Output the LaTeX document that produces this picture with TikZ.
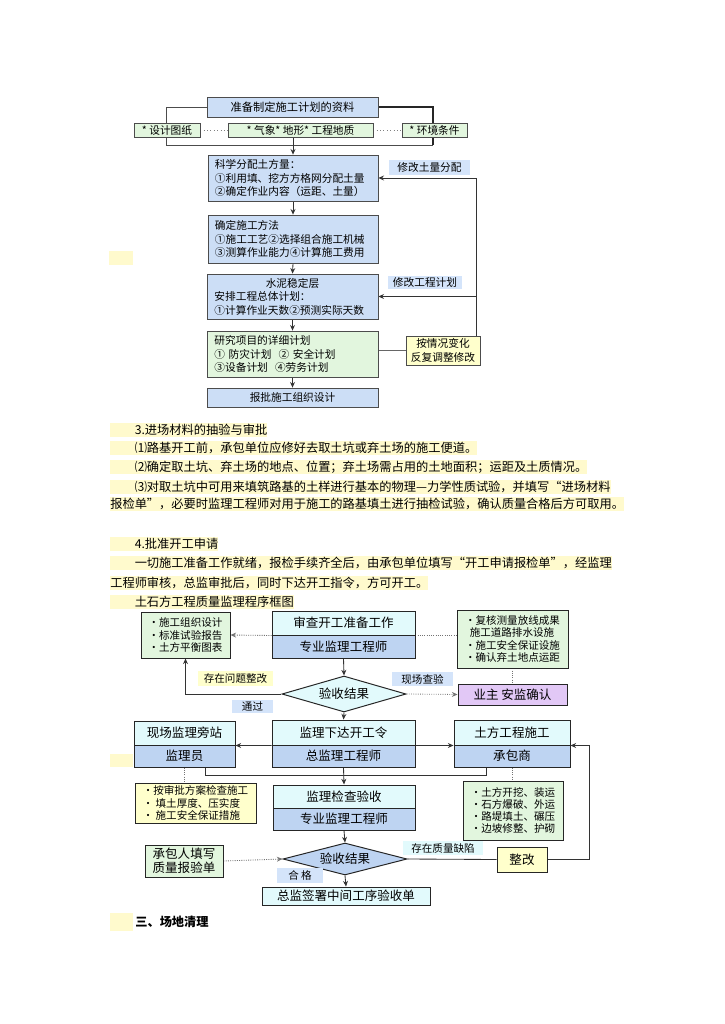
\documentclass[tikz,border=0pt]{standalone}
\usepackage{fontspec}
\setmainfont{Noto Sans CJK SC}
\usetikzlibrary{arrows.meta,calc,positioning,shapes.geometric}
\pgfdeclarelayer{paper}
\pgfdeclarelayer{wires}
\pgfsetlayers{paper,wires,main}
\definecolor{planblue}{RGB}{204,222,246}
\definecolor{listgreen}{RGB}{226,246,222}
\definecolor{noteyellow}{RGB}{255,255,204}
\definecolor{markyellow}{RGB}{255,250,205}
\definecolor{headcyan}{RGB}{226,250,252}
\definecolor{roleblue}{RGB}{190,212,242}
\definecolor{ownerpurple}{RGB}{226,200,246}
\definecolor{tagblue}{RGB}{212,228,250}
\newcommand\szA{\fontsize{7.6}{9.6}\selectfont}
\newcommand\szB{\fontsize{8.7}{10}\selectfont}
\newcommand\szC{\fontsize{8.9}{10}\selectfont}
\newcommand\szD{\fontsize{7.5}{8.6}\selectfont}

\begin{document}
\begin{tikzpicture}[x=0.025cm,y=-0.025cm,>={Stealth[length=4pt,width=3.5pt]},
  spot/.style args={#1,#2,#3,#4}{at={(#1/2+#3/2,#2/2+#4/2)},minimum width={(#3-#1)*0.025cm},minimum height={(#4-#2)*0.025cm}},
  bx/.style={draw=black!70,line width=0.5pt,inner sep=0pt,font=\szA},
  bx2/.style={draw=black!85,line width=0.7pt,inner sep=0pt},
  txt/.style={align=left,text width=3.9cm},
  tag/.style={fill=tagblue,inner sep=0pt},
  hl/.style={fill=markyellow,inner xsep=0pt,inner ysep=0.4pt,text height=7.4pt,text depth=1.4pt,font=\szB,anchor=west},
  dec/.style={diamond,aspect=3.4,inner sep=0pt,draw=black!85,line width=0.7pt,minimum width=3.1cm,font=\szC},
  wire/.style={black!80,line width=0.6pt},
  dots/.style={black!55,densely dotted,line width=0.6pt}]
\useasboundingbox (0,0) rectangle (724,1024);
\begin{pgfonlayer}{paper}\fill[white] (0,0) rectangle (724,1024);\end{pgfonlayer}

\node[bx,fill=planblue,font=\fontsize{8}{9}\selectfont,spot={207,97,378,117}] (prep) {准备制定施工计划的资料};
\node[bx,fill=listgreen,spot={134,123,200,137}] (d1) {* 设计图纸};
\node[bx,fill=listgreen,spot={228,123,373,137}] (d2) {* 气象* 地形* 工程地质};
\node[bx,fill=listgreen,spot={402,123,467,137}] (d3) {* 环境条件};
\node[bx,fill=planblue,txt,spot={208,155,378,201}] (soil) {科学分配土方量：\\①利用填、挖方方格网分配土量\\②确定作业内容（运距、土量）};
\node[tag,font=\szA,spot={389,160,470,175}] (t1) {修改土量分配};
\node[bx,fill=planblue,txt,spot={208,215,378,263}] (method) {确定施工方法\\①施工工艺②选择组合施工机械\\③测算作业能力④计算施工费用};
\fill[markyellow] (109,251) rectangle (133,265);
\node[bx,fill=planblue,txt,spot={207,274,378,319}] (layer) {\makebox[3.9cm]{水泥稳定层}\\安排工程总体计划：\\①计算作业天数②预测实际天数};
\node[tag,font=\szA,spot={388,276,462,289}] (t2) {修改工程计划};
\node[bx,fill=listgreen,txt,spot={207,331,378,377}] (plan) {研究项目的详细计划\\① 防灾计划 \ ② 安全计划\\③设备计划 \ ④劳务计划};
\node[bx,fill=noteyellow,align=center,spot={406,336,480,365}] (adjust) {按情况变化\\反复调整修改};
\node[bx,fill=planblue,spot={207,388,378,407}] (approve) {报批施工组织设计};

\begin{pgfonlayer}{wires}
\coordinate (busL) at (166,145); \coordinate (busR) at (433,145); \coordinate (loop) at (476,178);
\draw[black!70,line width=0.5pt] (prep.west) -| (busL) -- (busR);
\draw[black!85,line width=1.1pt] (busR) |- (prep.east);
\draw[black!50,dotted] (d1) -- (d2) (d2) -- (d3);
\draw[->,wire] (d2.south -| soil.north) -- (soil.north);
\foreach \a/\b in {soil/method,method/layer,layer/plan,plan/approve} \draw[->,wire] (\a.south) -- (\b.north);
\draw[->,wire] (adjust.north -| loop) -- (loop) -- (soil.east);
\draw[->,wire] (loop |- layer.east) -- (layer.east);
\draw[black!60,line width=0.5pt] (adjust.west -| plan.east) -- (adjust.west);
\end{pgfonlayer}

\node[hl] (p1) at (110,430) {\hspace*{2em}3.进场材料的抽验与审批};
\node[hl] (p2) at (110,448) {\hspace*{2em}⑴路基开工前，承包单位应修好去取土坑或弃土场的施工便道。};
\node[hl] (p3) at (110,467) {\hspace*{2em}⑵确定取土坑、弃土场的地点、位置；弃土场需占用的土地面积；运距及土质情况。};
\node[hl] (p4) at (110,487) {\hspace*{2em}⑶对取土坑中可用来填筑路基的土样进行基本的物理—力学性质试验，并填写“进场材料};
\node[hl] (p5) at (110,504) {报检单”，必要时监理工程师对用于施工的路基填土进行抽检试验，确认质量合格后方可取用。};
\node[hl] (p6) at (110,544) {\hspace*{2em}4.批准开工申请};
\node[hl] (p7) at (110,563) {\hspace*{2em}一切施工准备工作就绪，报检手续齐全后，由承包单位填写“开工申请报检单”，经监理};
\node[hl] (p8) at (110,583) {工程师审核，总监审批后，同时下达开工指令，方可开工。};
\node[hl] (p9) at (110,602) {\hspace*{2em}土石方工程质量监理程序框图};

\node[bx2,fill=listgreen,font=\szD,align=left,spot={141,612,230,658}] (docs) {•施工组织设计\\•标准试验报告\\•土方平衡图表};
\node[bx2,fill=headcyan,font=\szC,spot={272,611,415,635}] (rvTop) {审查开工准备工作};
\node[bx2,fill=roleblue,font=\szC,spot={272,635,415,658}] (rvBot) {专业监理工程师};
\node[bx2,fill=listgreen,font=\szD,align=left,spot={457,610,568,668}] (checks) {•复核测量放线成果\\\hspace*{0.45em}施工道路排水设施\\•施工安全保证设施\\•确认弃土地点运距};
\node[dec,fill=headcyan,minimum height=0.9cm] (dec1) at (344,694) {验收结果};
\node[bx2,fill=ownerpurple,font=\szC,spot={458,684,567,705}] (owner) {业主\ 安监确认};
\node[tag,font=\szD,spot={392,672,453,686}] (t3) {现场查验};
\node[fill=noteyellow,inner sep=0pt,font=\szD,spot={198,671,273,686}] (t4) {存在问题整改};
\node[tag,font=\szD,spot={232,700,273,713}] (t5) {通过};
\node[bx2,fill=headcyan,font=\szC,spot={272,720,415,745}] (odTop) {监理下达开工令};
\node[bx2,fill=roleblue,font=\szC,spot={272,745,415,767}] (odBot) {总监理工程师};
\node[bx2,fill=headcyan,font=\szC,spot={134,721,235,745}] (stTop) {现场监理旁站};
\node[bx2,fill=roleblue,font=\szC,spot={134,745,235,767}] (stBot) {监理员};
\node[bx2,fill=headcyan,font=\szC,spot={454,720,570,745}] (wkTop) {土方工程施工};
\node[bx2,fill=roleblue,font=\szC,spot={454,745,570,767}] (wkBot) {承包商};
\fill[markyellow] (110,754) rectangle (133,767);
\node[bx2,fill=noteyellow,font=\szD,align=left,spot={135,783,256,823}] (insp) {•按审批方案检查施工\\• 填土厚度、压实度\\• 施工安全保证措施};
\node[bx2,fill=headcyan,font=\szC,spot={273,785,415,808}] (ckTop) {监理检查验收};
\node[bx2,fill=roleblue,font=\szC,spot={273,808,415,830}] (ckBot) {专业监理工程师};
\node[bx2,fill=listgreen,font=\szD,align=left,spot={463,781,563,840}] (tasks) {•土方开挖、装运\\•石方爆破、外运\\•路堤填土、碾压\\•边坡修整、护砌};
\node[bx2,fill=listgreen,font=\szC,align=center,spot={145,845,223,877}] (form) {承包人填写\\质量报验单};
\node[dec,fill=roleblue,minimum height=0.8cm] (dec2) at (345,859) {验收结果};
\node[fill=headcyan,inner sep=0pt,font=\szD,spot={403,841,483,855}] (t6) {存在质量缺陷};
\node[bx2,fill=noteyellow,font=\szC,spot={497,847,547,872}] (fix) {整改};
\node[tag,font=\szD,spot={277,868,323,883}] (t7) {合\ 格};
\node[bx2,fill=headcyan,font=\szC,spot={262,887,430,905}] (sign) {总监签署中间工序验收单};
\fill[markyellow] (110,913) rectangle (133,931);
\node[font=\szB\bfseries,anchor=west,inner sep=0pt] (sec3) at (135,922) {三、场地清理};

\begin{pgfonlayer}{wires}
\draw[dots,->] (rvTop.south west) -- (docs.east);
\draw[dots] (rvTop.south east) -- (rvTop.south east -| checks.west);
\draw[dots] (checks.south) -- (owner.north);
\draw[wire,->] (rvBot.south) -- (dec1.north);
\draw[dots,->] (dec1.east) -- (owner.west);
\draw[wire,->] (dec1.west) -| (docs.south);
\draw[wire,->] (dec1.south) -- (odTop.north);
\draw[wire,->] (odTop.south west) -- (stTop.south east);
\draw[wire,->] (odTop.south east) -- (wkTop.south west);
\draw[wire] ([xshift=15pt]stBot.south) -- ++(0,8) -| ([xshift=-18pt]wkBot.south);
\draw[wire,->] (odBot.south) -- (ckTop.north);
\draw[dots] (stBot.south) -- (stBot.south |- insp.north);
\draw[dots] (wkBot.south) -- (wkBot.south |- tasks.north);
\draw[wire,->] (ckBot.south) -- (dec2.north);
\draw[dots,->] (form.east) -- (dec2.west);
\draw[wire] (dec2.east) -- (fix.west);
\draw[wire,->] (fix.east) -- ++(42,0) |- (wkTop.south east);
\draw[wire,->] (dec2.south) -- (sign.north);
\end{pgfonlayer}
\end{tikzpicture}
\end{document}
